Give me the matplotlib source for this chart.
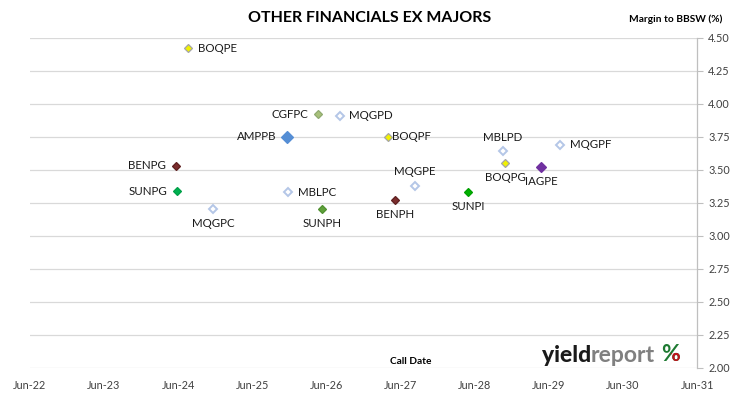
import matplotlib
matplotlib.use("Agg")
import matplotlib.pyplot as plt
import matplotlib.dates as mdates
from matplotlib.transforms import Bbox
import numpy as np
import pandas as pd

plt.rcParams["font.family"] = ["Lato", "DejaVu Sans"]

# ── Data ───────────────────────────────────────────────────────────────
names = ["BOQPE", "CGFPC", "MQGPD", "AMPPB", "BOQPF", "BENPG", "SUNPG", "MQGPC",
         "MBLPC", "SUNPH", "BENPH", "MQGPE", "SUNPI", "MBLPD", "BOQPG", "IAGPE", "MQGPF"]
call_dates = ["2024-07-18", "2026-04-20", "2026-08-05", "2025-11-20", "2027-04-01",
              "2024-05-20", "2024-05-25", "2024-11-20", "2025-11-25", "2026-05-10",
              "2027-05-05", "2027-08-12", "2028-04-28", "2028-10-17", "2028-10-28",
              "2029-04-25", "2029-07-25"]
margins = [4.42, 3.92, 3.91, 3.75, 3.75, 3.53, 3.34, 3.20,
           3.33, 3.20, 3.27, 3.38, 3.33, 3.64, 3.55, 3.52, 3.69]

x_tick_dates = pd.date_range("2022-06-01", "2031-06-01", freq="12MS")
y_ticks = [2.00, 2.25, 2.50, 2.75, 3.00, 3.25, 3.50, 3.75, 4.00, 4.25, 4.50]

# ── Styles per issuer ──────────────────────────────────────────────────
style = {
    "BOQ": dict(fc="#f2f200", ec="#a6a6a6", ms=4.5, mew=0.9),
    "CGF": dict(fc="#a8c07a", ec="#8faa70", ms=4.5, mew=0.9),
    "MQG": dict(fc="white", ec="#b4c6e7", ms=4.5, mew=1.4),
    "MBL": dict(fc="white", ec="#b4c6e7", ms=4.5, mew=1.4),
    "AMP": dict(fc="#558ed5", ec="#558ed5", ms=6.0, mew=0.9),
    "BEN": dict(fc="#7b2d2d", ec="#5e2020", ms=4.5, mew=0.9),
    "SUN": dict(fc="#00b050", ec="#00a048", ms=4.5, mew=0.9),
    "IAG": dict(fc="#7030a0", ec="#7030a0", ms=4.6, mew=0.9),
}
style_override = {
    "SUNPH": dict(fc="#5fa13a", ec="#4f9030", ms=4.5, mew=0.9),
    "SUNPI": dict(fc="#00b000", ec="#00a000", ms=4.5, mew=0.9),
}

# label placement: (dx, dy) in points, ha
label_pos = {
    "BOQPE": (7, 0, "left"), "CGFPC": (-7, 0, "right"), "MQGPD": (7, 0, "left"),
    "AMPPB": (-8, 0, "right"), "BOQPF": (3, 0, "left"), "BENPG": (-7, 0, "right"),
    "SUNPG": (-7, 0, "right"), "MQGPC": (0, -10, "center"), "MBLPC": (7, 0, "left"),
    "SUNPH": (0, -10, "center"), "BENPH": (0, -10, "center"), "MQGPE": (0, 10, "center"),
    "SUNPI": (0, -10, "center"), "MBLPD": (0, 10, "center"), "BOQPG": (0, -10, "center"),
    "IAGPE": (0, -10, "center"), "MQGPF": (7, 0, "left"),
}

dates = pd.to_datetime(call_dates)

fig = plt.figure(figsize=(7.3, 3.99), dpi=100)
fig.patch.set_facecolor("white")
ax = fig.add_axes([0.041, 0.078, 0.914, 0.827])

for name, d, m in zip(names, dates, margins):
    st = style_override.get(name, style[name[:3]])
    ax.plot(d, m, marker="D", ms=st["ms"], mfc=st["fc"], mec=st["ec"], mew=st["mew"],
            linestyle="none", zorder=3)
    dx, dy, ha = label_pos[name]
    ax.annotate(name, xy=(d, m), xytext=(dx, dy), textcoords="offset points",
                ha=ha, va="center", fontsize=8.3, color="#1a1a1a")

ax.set_xlim(x_tick_dates[0], x_tick_dates[-1])
ax.set_ylim(2.0, 4.5)
ax.set_xticks(x_tick_dates)
ax.xaxis.set_major_formatter(mdates.DateFormatter("%b-%y"))
ax.set_yticks(y_ticks)
ax.set_yticklabels([f"{v:.2f}" for v in y_ticks])
ax.yaxis.tick_right()
ax.tick_params(axis="y", length=4, width=0.8, color="#bfbfbf", labelsize=7.8,
               labelcolor="#404040", pad=4)
ax.tick_params(axis="x", length=0, labelsize=7.8, labelcolor="#404040", pad=9)

ax.yaxis.grid(True, color="#d9d9d9", linewidth=0.9)
ax.set_axisbelow(True)
for side in ["left", "top", "bottom"]:
    ax.spines[side].set_visible(False)
ax.spines["right"].set_color("#bfbfbf")
ax.spines["right"].set_linewidth(0.9)

# ── Titles ─────────────────────────────────────────────────────────────
fig.text(0.507, 0.955, "OTHER FINANCIALS EX MAJORS", ha="center", va="center",
         fontsize=11.5, fontweight="bold", color="#000000")
fig.text(0.925, 0.953, "Margin to BBSW (%)", ha="center", va="center",
         fontsize=7.3, fontweight="bold", color="#000000")
fig.text(0.562, 0.093, "Call Date", ha="center", va="center",
         fontsize=7.3, fontweight="bold", color="#000000")

# ── yieldreport logo ───────────────────────────────────────────────────
logo = fig.text(0.742, 0.108, "yield", ha="left", va="center", fontsize=16.5,
                fontweight="black", color="#1a1a1a")
fig.canvas.draw()
bb = logo.get_window_extent().transformed(fig.transFigure.inverted())
logo2 = fig.text(bb.x1, 0.108, "report", ha="left", va="center", fontsize=16.5,
                 fontweight="bold", color="#808080")
fig.canvas.draw()
bb2 = logo2.get_window_extent().transformed(fig.transFigure.inverted())
px, py = bb2.x1 + 0.008, 0.112
pct = fig.text(px, py, "%", ha="left", va="center", fontsize=16.5,
               fontweight="bold", color="#1e7a32")
fig.canvas.draw()
pb = pct.get_window_extent()
# red lower circle of the % sign
pct_red = fig.text(px, py, "%", ha="left", va="center", fontsize=16.5,
                   fontweight="bold", color="#c0141c")
pct_red.set_clip_box(Bbox.from_extents(pb.x0 + 0.52 * pb.width, pb.y0,
                                       pb.x1 + 2, pb.y0 + 0.55 * pb.height))

fig.savefig("out.png", dpi=100, facecolor="white")
